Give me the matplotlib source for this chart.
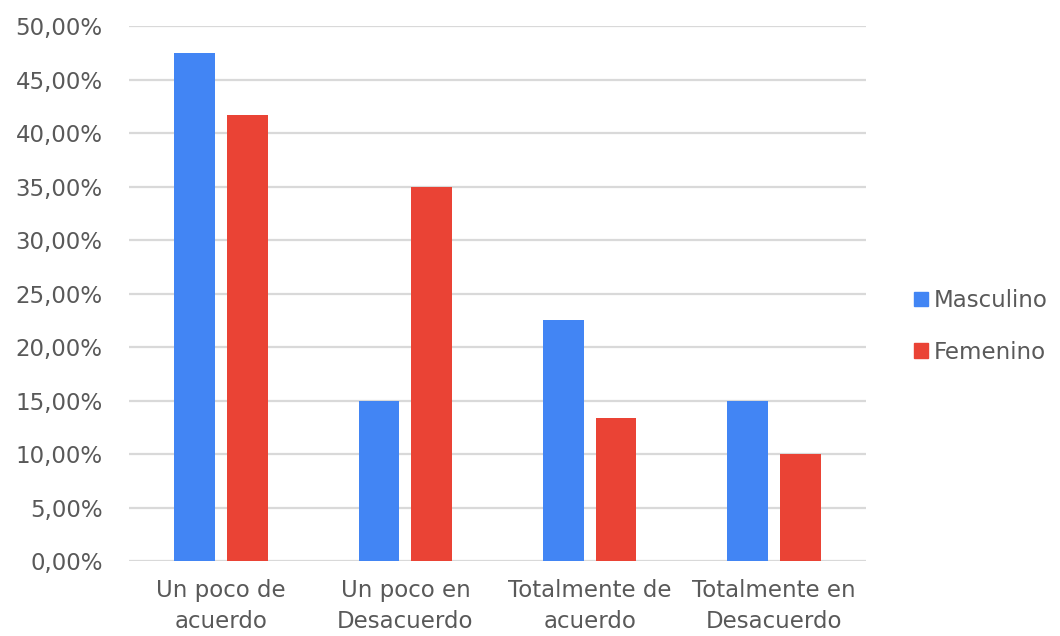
import numpy as np
import matplotlib.pyplot as plt
from matplotlib.patches import Patch

plt.rcParams['font.family'] = ['DejaVu Sans']

categorias = ["Un poco de\nacuerdo", "Un poco en\nDesacuerdo",
              "Totalmente de\nacuerdo", "Totalmente en\nDesacuerdo"]
masculino = [47.5, 15.0, 22.5, 15.0]
femenino = [41.67, 35.0, 13.33, 10.0]

azul = '#4285F4'
rojo = '#EA4335'
gris = '#595959'

fig = plt.figure(figsize=(10.6, 6.36), dpi=100)
ax = fig.add_axes([0.1217, 0.1179, 0.6953, 0.8412])

x = np.arange(len(categorias))
w = 0.222
ax.bar(x - 0.143, masculino, w, color=azul, zorder=3)
ax.bar(x + 0.143, femenino, w, color=rojo, zorder=3)

ax.set_xlim(-0.5, len(categorias) - 0.5)
ax.set_ylim(0, 50)
ax.set_yticks(np.arange(0, 51, 5))
ax.set_yticklabels([f"{v:.2f}%".replace('.', ',') for v in np.arange(0, 51, 5)])
ax.set_xticks(x)
ax.set_xticklabels(categorias, linespacing=1.45)

ax.grid(axis='y', color='#d9d9d9', linewidth=1.6, zorder=0)
ax.tick_params(axis='both', length=0, labelsize=16.5, labelcolor=gris)
ax.tick_params(axis='y', pad=19)
ax.tick_params(axis='x', pad=13)
for s in ax.spines.values():
    s.set_visible(False)
ax.set_axisbelow(True)

handles = [Patch(color=azul, label='Masculino'), Patch(color=rojo, label='Femenino')]
fig.legend(handles=handles, loc='center left', bbox_to_anchor=(0.8625, 0.487),
           frameon=False, fontsize=16.5, labelcolor=gris, handlelength=0.6,
           handleheight=0.6, handletextpad=0.25, labelspacing=1.25, borderpad=0,
           borderaxespad=0)

fig.savefig('out.png', dpi=100)
